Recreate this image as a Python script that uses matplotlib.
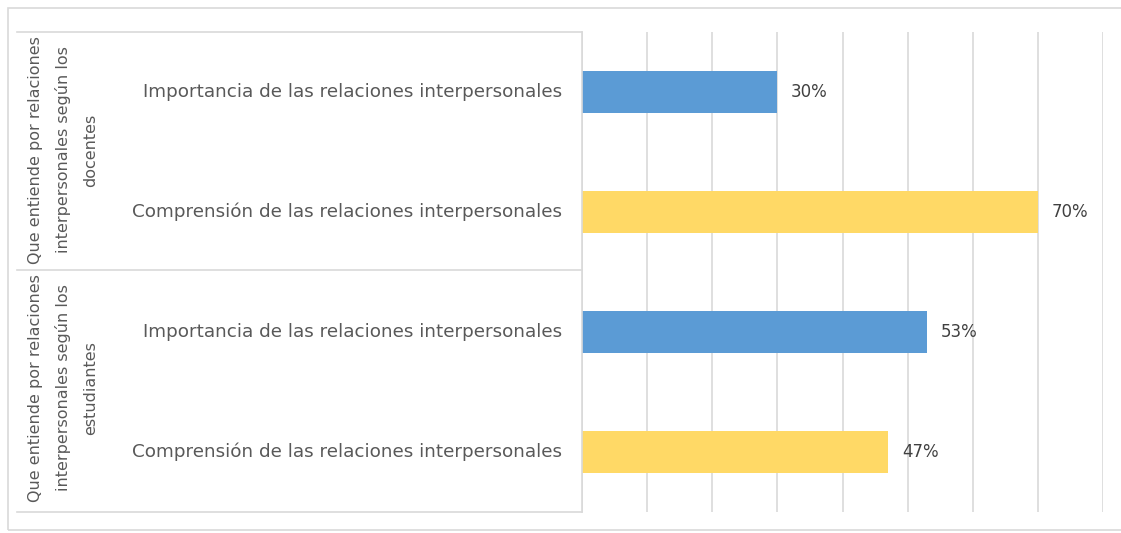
import matplotlib.pyplot as plt
from matplotlib.patches import Rectangle
from matplotlib.lines import Line2D

groups = ["Que entiende por relaciones\ninterpersonales según los\ndocentes",
          "Que entiende por relaciones\ninterpersonales según los\nestudiantes"]
labels = ["Importancia de las relaciones interpersonales",
          "Comprensión de las relaciones interpersonales",
          "Importancia de las relaciones interpersonales",
          "Comprensión de las relaciones interpersonales"]
values = [30, 70, 53, 47]
colors = ["#5B9BD5", "#FFD966", "#5B9BD5", "#FFD966"]

W, H = 1121, 533
fig = plt.figure(figsize=(W / 100, H / 100), dpi=100)
plt.rcParams['font.family'] = ['DejaVu Sans']

def fx(px):
    return px / W

def fy(py):
    return 1 - py / H

ax = fig.add_axes([fx(582), fy(512), fx(1103) - fx(582), fy(32) - fy(512)])
pos = list(range(len(values)))
ax.barh(pos, values, height=0.35, color=colors, zorder=2)
ax.set_ylim(3.5, -0.5)
ax.set_xlim(0, 80)
ax.set_xticks(range(0, 81, 10))
ax.xaxis.grid(True, color="#D9D9D9", linewidth=1.2, zorder=0)
ax.tick_params(length=0, labelbottom=False, labelleft=False)
for s in ax.spines.values():
    s.set_visible(False)

for p, v in zip(pos, values):
    ax.text(v + 2.1, p, f"{v}%", va="center", ha="left", fontsize=12, color="#404040")

tc = "#595959"
for p, lab in zip(pos, labels):
    fig.text(fx(562), fy(32 + 60 + 120 * p), lab, ha="right", va="center",
             fontsize=13.2, color=tc)

for i, g in enumerate(groups):
    fig.text(fx(63), fy(150 + 238 * i), g, rotation=90, ha="center", va="center",
             fontsize=11.5, color=tc, multialignment="center", linespacing=1.95)

lc = "#D9D9D9"
for y in (32, 270, 512):
    fig.add_artist(Line2D([fx(17), fx(582)], [fy(y), fy(y)], color=lc, lw=1.2))
fig.add_artist(Line2D([fx(582), fx(582)], [fy(32), fy(512)], color=lc, lw=1.2))

fig.add_artist(Rectangle((fx(8), fy(530)), fx(1125) - fx(8), fy(8) - fy(530),
                         fill=False, edgecolor=lc, lw=1.2))

fig.savefig("out.png", dpi=100)
